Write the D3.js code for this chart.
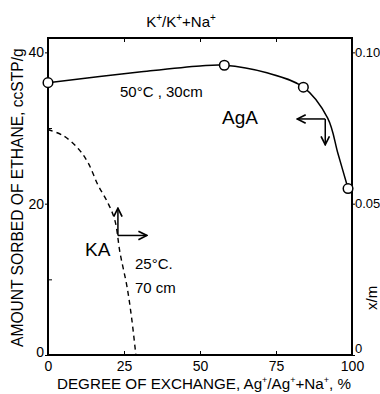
<!DOCTYPE html>
<html>
<head>
<meta charset="utf-8">
<script src="https://cdn.jsdelivr.net/npm/d3@7"></script>
<style>
  body { margin: 0; background: white; }
  svg text { font-family: "Liberation Sans", Arial, sans-serif; fill: black; }
</style>
</head>
<body>
<div id="graph"></div>
<script>
// AgA, 50°C, 30 cm: measured points (open circles)
const agaX = [0, 58, 84, 98.7];
const agaY = [36, 38.3, 35.4, 22];
// AgA: drawn curve
const agaCurveX = [0, 30, 50, 58, 72, 84, 92, 95.4, 98.7];
const agaCurveY = [36, 37.4, 38.2, 38.3, 37.3, 35.4, 31.3, 26.6, 22];
// KA, 25°C, 70 cm (dashed curve)
const kaX = [0, 5, 9.9, 13.2, 16.4, 19.7, 22, 23.7, 26, 27.6, 28.9];
const kaY = [29.8, 29.0, 27.3, 25.4, 22.5, 20.1, 17.8, 13.5, 9, 4.6, 0];

const xTicks = [0, 25, 50, 75, 100];
const yTicks = [0, 20, 40];
const yMinor = [10, 30];
const rTicks = [0, 0.05, 0.10];
const rLabels = ['0', '0.05', '0.10'];

const w = 380;
const h = 394;
const margin = {left: 48, right: 28, top: 38, bottom: 39};

const xScale = d3.scaleLinear([0, 100], [margin.left, w - margin.right]);
const yScale = d3.scaleLinear([0, 41.9], [h - margin.bottom, margin.top]);
const rScale = d3.scaleLinear([0, 0.10475], [h - margin.bottom, margin.top]);

const svg = d3.select('#graph')
  .append('svg')
  .attr('width', w)
  .attr('height', h);

// frame
svg.append('rect')
  .attr('x', margin.left)
  .attr('y', margin.top)
  .attr('width', w - margin.left - margin.right)
  .attr('height', h - margin.top - margin.bottom)
  .attr('fill', 'none')
  .attr('stroke', 'black')
  .attr('stroke-width', 2);

// bottom axis
svg.append('g')
  .attr('transform', 'translate(0,' + (h - margin.bottom) + ')')
  .call(d3.axisBottom(xScale).tickValues(xTicks).tickSizeInner(-4).tickSizeOuter(0).tickPadding(6))
  .call(g => g.select('.domain').remove())
  .call(g => g.selectAll('text').attr('font-size', 14));

// top ticks
svg.append('g')
  .attr('transform', 'translate(0,' + margin.top + ')')
  .call(d3.axisTop(xScale).tickValues(xTicks.slice(1, 4)).tickSizeInner(-4).tickSizeOuter(0).tickFormat(''))
  .call(g => g.select('.domain').remove());

// left axis
svg.append('g')
  .attr('transform', 'translate(' + margin.left + ',0)')
  .call(d3.axisLeft(yScale).tickValues(yTicks).tickSize(3).tickPadding(1))
  .call(g => g.select('.domain').remove())
  .call(g => g.selectAll('text').attr('font-size', 14))
  .call(g => g.selectAll('.tick').filter(d => d === 0).select('text').attr('dy', '0.1em'));

svg.append('g')
  .attr('transform', 'translate(' + margin.left + ',0)')
  .call(d3.axisLeft(yScale).tickValues(yMinor).tickSize(-4).tickFormat(''))
  .call(g => g.select('.domain').remove());

// right axis
svg.append('g')
  .attr('transform', 'translate(' + (w - margin.right) + ',0)')
  .call(d3.axisRight(rScale).tickValues(rTicks).tickSize(3).tickPadding(0)
    .tickFormat((d, i) => rLabels[i]))
  .call(g => g.select('.domain').remove())
  .call(g => g.selectAll('text').attr('font-size', 13))
  .call(g => g.selectAll('.tick').filter(d => d === 0).select('text').attr('dy', '-0.2em'));

// KA dashed curve
const kaData = kaX.map((x, i) => ({x: x, y: kaY[i]}));
const line = d3.line()
  .x(d => xScale(d.x))
  .y(d => yScale(d.y))
  .curve(d3.curveCatmullRom);

svg.append('path')
  .attr('d', line(kaData))
  .attr('fill', 'none')
  .attr('stroke', 'black')
  .attr('stroke-width', 1.4)
  .attr('stroke-dasharray', '5,4');

// AgA solid curve
const agaCurve = agaCurveX.map((x, i) => ({x: x, y: agaCurveY[i]}));
svg.append('path')
  .attr('d', line(agaCurve))
  .attr('fill', 'none')
  .attr('stroke', 'black')
  .attr('stroke-width', 1.5);

const agaData = agaX.map((x, i) => ({x: x, y: agaY[i]}));
svg.selectAll('circle.aga')
  .data(agaData)
  .join('circle')
  .attr('class', 'aga')
  .attr('cx', d => xScale(d.x))
  .attr('cy', d => yScale(d.y))
  .attr('r', 4.8)
  .attr('fill', 'white')
  .attr('stroke', 'black')
  .attr('stroke-width', 1.5);

// arrows
svg.append('defs').append('marker')
  .attr('id', 'arr')
  .attr('viewBox', '0 0 10 10')
  .attr('refX', 9).attr('refY', 5)
  .attr('markerWidth', 7).attr('markerHeight', 7)
  .attr('orient', 'auto')
  .append('path')
  .attr('d', 'M1,1 L9,5 L1,9')
  .attr('fill', 'none')
  .attr('stroke', 'black')
  .attr('stroke-width', 1.6);

function arrow(x1, y1, x2, y2) {
  svg.append('line')
    .attr('x1', xScale(x1)).attr('y1', yScale(y1))
    .attr('x2', xScale(x2)).attr('y2', yScale(y2))
    .attr('stroke', 'black')
    .attr('stroke-width', 1.5)
    .attr('marker-end', 'url(#arr)');
}
// AgA arrows: left axis and right axis
arrow(91.2, 31.2, 82, 31.2);
arrow(91.2, 31.2, 91.2, 27.8);
// KA arrows
arrow(23, 15.8, 23, 19.4);
arrow(23, 15.8, 32.5, 15.8);

// annotations
svg.append('text')
  .attr('x', 120).attr('y', 97)
  .attr('font-size', 15)
  .text('50°C , 30cm');

svg.append('text')
  .attr('x', 222).attr('y', 124)
  .attr('font-size', 19)
  .text('AgA');

svg.append('text')
  .attr('x', 85).attr('y', 256)
  .attr('font-size', 19)
  .text('KA');

svg.append('text')
  .attr('x', 135).attr('y', 269)
  .attr('font-size', 15)
  .text('25°C.');

svg.append('text')
  .attr('x', 135).attr('y', 293)
  .attr('font-size', 15)
  .text('70 cm');

// axis titles
const topTitle = svg.append('text')
  .attr('x', 181).attr('y', 27)
  .attr('text-anchor', 'middle')
  .attr('font-size', 15);
topTitle.append('tspan').text('K');
topTitle.append('tspan').attr('dy', -6).attr('font-size', 10).text('+');
topTitle.append('tspan').attr('dy', 6).text('/K');
topTitle.append('tspan').attr('dy', -6).attr('font-size', 10).text('+');
topTitle.append('tspan').attr('dy', 6).text('+Na');
topTitle.append('tspan').attr('dy', -6).attr('font-size', 10).text('+');

const bottomTitle = svg.append('text')
  .attr('x', 57).attr('y', 389)
  .attr('font-size', 15.2);
bottomTitle.append('tspan').text('DEGREE OF EXCHANGE, Ag');
bottomTitle.append('tspan').attr('dy', -6).attr('font-size', 9).text('+');
bottomTitle.append('tspan').attr('dy', 6).text('/Ag');
bottomTitle.append('tspan').attr('dy', -6).attr('font-size', 9).text('+');
bottomTitle.append('tspan').attr('dy', 6).text('+Na');
bottomTitle.append('tspan').attr('dy', -6).attr('font-size', 9).text('+');
bottomTitle.append('tspan').attr('dy', 6).text(', %');

svg.append('text')
  .attr('transform', 'translate(23,347) rotate(-90)')
  .attr('font-size', 15.6)
  .text('AMOUNT SORBED OF ETHANE, ccSTP/g');

svg.append('text')
  .attr('transform', 'translate(377,310) rotate(-90)')
  .attr('font-size', 15)
  .text('x/m');
</script>
</body>
</html>
